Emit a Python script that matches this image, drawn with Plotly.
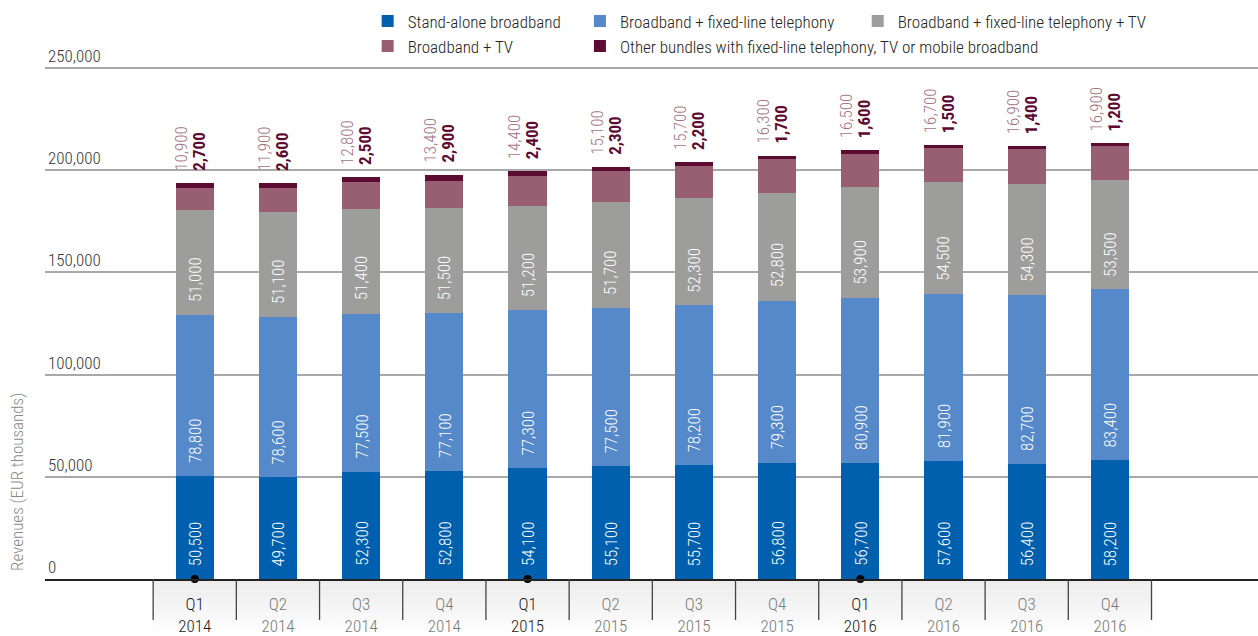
import plotly.graph_objects as go

# Quarterly revenues by broadband offer type (EUR thousands)
quarters = ["Q1", "Q2", "Q3", "Q4"] * 3
years = ["2014"] * 4 + ["2015"] * 4 + ["2016"] * 4

stand_alone = [50500, 49700, 52300, 52800, 54100, 55100, 55700, 56800, 56700, 57600, 56400, 58200]
bb_tel = [78800, 78600, 77500, 77100, 77300, 77500, 78200, 79300, 80900, 81900, 82700, 83400]
bb_tel_tv = [51000, 51100, 51400, 51500, 51200, 51700, 52300, 52800, 53900, 54500, 54300, 53500]
bb_tv = [10900, 11900, 12800, 13400, 14400, 15100, 15700, 16300, 16500, 16700, 16900, 16900]
other = [2700, 2600, 2500, 2900, 2400, 2300, 2200, 1700, 1600, 1500, 1400, 1200]

series_names = [
    "Stand-alone broadband",
    "Broadband + fixed-line telephony",
    "Broadband + fixed-line telephony + TV",
    "Broadband + TV",
    "Other bundles with fixed-line telephony, TV or mobile broadband",
]
series_colors = ["#0060ae", "#5589c9", "#9d9d9c", "#975f71", "#5c0b33"]
y_ticks = [0, 50000, 100000, 150000, 200000, 250000]

FONT = "Roboto Condensed, Liberation Sans Narrow, DejaVu Sans Condensed, Arial Narrow, sans-serif"
LIGHT = 300

TOP, BOTTOM = 66, 57
PLOT_H = 636 - TOP - BOTTOM

series = [stand_alone, bb_tel, bb_tel_tv, bb_tv, other]
legend_of = ["legend", "legend2", "legend3", "legend", "legend2"]
x = list(range(len(quarters)))

fig = go.Figure()
for name, vals, col, lg in zip(series_names, series, series_colors, legend_of):
    fig.add_trace(go.Bar(
        x=x, y=vals, name=name, marker=dict(color=col, line=dict(width=0)),
        width=0.46, legend=lg, hoverinfo="y+name",
    ))

annotations = []
# value labels inside the three lower segments
base = [0] * len(x)
for vals in series[:3]:
    for i, v in enumerate(vals):
        annotations.append(dict(
            x=i, y=base[i], text=f"{v:,}", textangle=-90, showarrow=False,
            xanchor="center", yanchor="bottom", yshift=11,
            font=dict(family=FONT, size=17, color="white", weight=LIGHT),
        ))
    base = [b + v for b, v in zip(base, vals)]

# labels for the two thin top segments, placed above the stack
totals = [b + t + o for b, t, o in zip(base, bb_tv, other)]
for i in x:
    annotations.append(dict(
        x=i, y=totals[i], text=f"{bb_tv[i]:,}", textangle=-90, showarrow=False,
        xanchor="center", yanchor="bottom", xshift=-14, yshift=10,
        font=dict(family=FONT, size=17, color="#a27384", weight=LIGHT),
    ))
    annotations.append(dict(
        x=i, y=totals[i], text=f"<b>{other[i]:,}</b>", textangle=-90, showarrow=False,
        xanchor="center", yanchor="bottom", xshift=4, yshift=10,
        font=dict(family=FONT, size=17, color="#5c0b33"),
    ))

annotations.append(dict(
    xref="paper", yref="paper", x=-0.023, y=0.012, text="Revenues (EUR thousands)",
    textangle=-90, showarrow=False, xanchor="center", yanchor="bottom",
    font=dict(family=FONT, size=17, color="#8a8a8a", weight=LIGHT),
))

# shaded band and separators under the category axis
shapes = []
band_h = 57 / PLOT_H
steps = 10
for k in range(steps):
    g = int(236 + (255 - 236) * k / (steps - 1))
    shapes.append(dict(
        type="rect", xref="x", yref="paper", x0=-0.5, x1=len(x) - 0.5,
        y0=-band_h * k / steps, y1=-band_h * (k + 1) / steps,
        fillcolor=f"rgb({g},{g},{g})", line=dict(width=0), layer="below",
    ))
for i in range(len(x) + 1):
    shapes.append(dict(
        type="line", xref="x", yref="paper", x0=i - 0.5, x1=i - 0.5,
        y0=0, y1=-41 / PLOT_H, line=dict(color="#444", width=1.3),
    ))

# markers on the axis at the start of each year
q1 = [i for i, q in enumerate(quarters) if q == "Q1"]
fig.add_trace(go.Scatter(
    x=q1, y=[0] * len(q1), mode="markers", marker=dict(color="black", size=8),
    showlegend=False, cliponaxis=False, hoverinfo="skip",
))

ticktext = []
for q, yr in zip(quarters, years):
    c = "#1a1a1a" if q == "Q1" else "#7a7a7a"
    ticktext.append(f'<span style="color:{c}">{q}<br>{yr}</span>')

legend_common = dict(
    orientation="v", yanchor="top", xanchor="left", y=1.122,
    font=dict(family=FONT, size=17, color="#222", weight=LIGHT), bgcolor="rgba(0,0,0,0)",
    traceorder="normal", itemsizing="constant", itemclick=False, itemdoubleclick=False,
)

fig.update_layout(
    width=1258, height=636,
    margin=dict(l=45, r=0, t=TOP, b=BOTTOM, autoexpand=False),
    paper_bgcolor="white", plot_bgcolor="white",
    barmode="stack",
    font=dict(family=FONT, size=16, color="#333", weight=LIGHT),
    xaxis=dict(
        range=[-1.8, 12.78], tickvals=x, ticktext=ticktext,
        ticks="outside", ticklen=9, tickcolor="rgba(0,0,0,0)",
        showgrid=False, showline=True, linecolor="#222", linewidth=1.5,
        zeroline=False, tickfont=dict(family=FONT, size=17, weight=LIGHT),
        fixedrange=True, automargin=False,
    ),
    yaxis=dict(
        range=[0, 250900], tickvals=y_ticks, tickformat=",d",
        ticklabelposition="inside top", ticklabeloverflow="allow",
        showgrid=True, gridcolor="#a8a8a8",
        gridwidth=1.5, zeroline=False, showline=False,
        tickfont=dict(family=FONT, size=17, color="#333", weight=LIGHT),
        fixedrange=True, automargin=False,
    ),
    legend=dict(legend_common, x=0.266),
    legend2=dict(legend_common, x=0.441),
    legend3=dict(legend_common, x=0.670),
    annotations=annotations,
    shapes=shapes,
    showlegend=True,
)

fig.write_html("out.html")
